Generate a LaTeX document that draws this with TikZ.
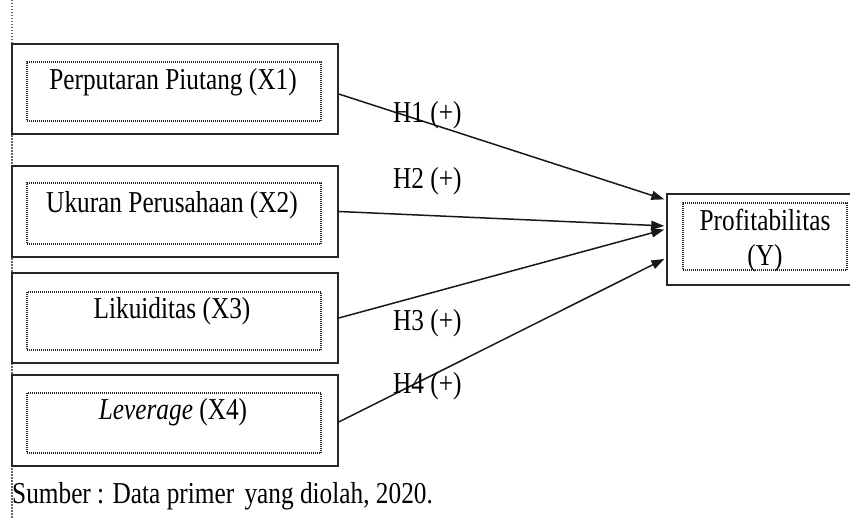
\documentclass[tikz,border=0pt]{standalone}
\usepackage{fontspec}
\usepackage{graphicx}
\setmainfont{Liberation Serif}
\usetikzlibrary{arrows.meta}
\newcommand\stretchtxt[1]{\scalebox{1}[1.2]{#1}}
\tikzset{
  outerbox/.style={draw=black!85, line width=1.5pt, minimum width=326pt, minimum height=90pt, inner sep=0pt},
  innerbox/.style={draw=black!85, line width=1.2pt, dash pattern=on 1pt off 1pt, minimum width=294pt, minimum height=59pt, inner sep=0pt},
  lbl/.style={anchor=base, inner sep=0pt, font=\fontsize{25.3pt}{30pt}\selectfont},
  hyp/.style={anchor=base west, inner sep=0pt, font=\fontsize{25.3pt}{30pt}\selectfont},
  conn/.style={draw=black!90, line width=1.5pt, -{Triangle[length=13pt,width=9pt]}, shorten >=2pt},
  margin/.style={draw=black!60, line width=1.2pt, dash pattern=on 1.5pt off 1.5pt}
}
\begin{document}
\begin{tikzpicture}[x=1pt,y=-1pt]
\useasboundingbox (0,0) rectangle (850,519);
\clip (0,0) rectangle (850,519);
% left margin dotted line
\coordinate (mtop) at (12,0);
\coordinate (mbot) at (12,519);
\draw[margin] (mtop) -- (mbot);
% independent boxes
\node[outerbox, fill=white] (b1) at (175,89) {};
\node[innerbox] (i1) at (174,91.5) {};
\node[lbl] (t1) at (173,89) {\stretchtxt{Perputaran Piutang (X1)}};
\node[outerbox, fill=white, minimum height=91pt] (b2) at (175,211.5) {};
\node[innerbox, minimum height=61pt] (i2) at (174,213.5) {};
\node[lbl] (t2) at (172,212) {\stretchtxt{Ukuran Perusahaan (X2)}};
\node[outerbox, fill=white] (b3) at (175,318) {};
\node[innerbox, minimum height=58pt] (i3) at (174,321) {};
\node[lbl] (t3) at (172,318) {\stretchtxt{Likuiditas (X3)}};
\node[outerbox, fill=white, minimum height=91pt] (b4) at (175,420.5) {};
\node[innerbox, minimum height=60pt] (i4) at (174,423) {};
\node[lbl] (t4) at (173,419) {\stretchtxt{\textit{Leverage} (X4)}};
% dependent box
\node[outerbox, minimum width=185pt, minimum height=91pt] (y) at (759.5,239.5) {};
\node[innerbox, minimum width=164pt, minimum height=67pt] (iy) at (765,236.5) {};
\node[lbl] (ty1) at (765,230) {\stretchtxt{Profitabilitas}};
\node[lbl] (ty2) at (765,265) {\stretchtxt{(Y)}};
% connectors
\draw[conn] ([yshift=-5pt]b1.east) -- ([yshift=39.5pt]y.west);
\draw[conn] (b2.east) -- ([yshift=13.5pt]y.west);
\draw[conn] (b3.east) -- ([yshift=10.5pt]y.west);
\draw[conn] ([yshift=-1.5pt]b4.east) -- ([yshift=-18.5pt]y.west);
% hypothesis labels
\node[hyp] (h1) at (393,122) {\stretchtxt{H1 (+)}};
\node[hyp] (h2) at (393,188) {\stretchtxt{H2 (+)}};
\node[hyp] (h3) at (393,330) {\stretchtxt{H3 (+)}};
\node[hyp] (h4) at (393,393) {\stretchtxt{H4 (+)}};
% source
\node[hyp] (src) at (12,503) {\stretchtxt{Sumber : Data primer\hspace{4pt} yang diolah, 2020.}};
\end{tikzpicture}
\end{document}
